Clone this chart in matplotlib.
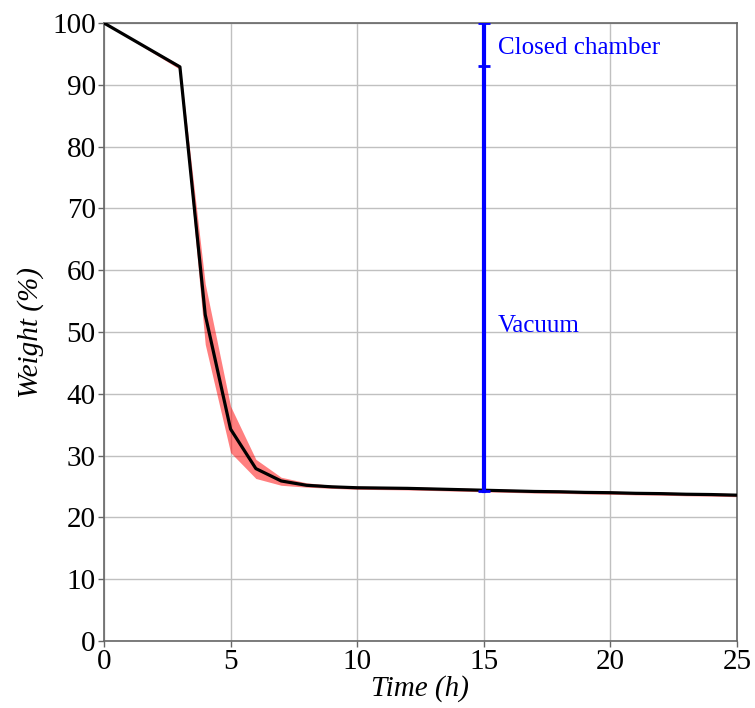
import numpy as np
import matplotlib
matplotlib.use("Agg")
import matplotlib.pyplot as plt

# Weight loss over time (mean with spread band)
time_h = [0, 3, 4, 5, 6, 7, 8, 9, 10, 11, 12, 13, 14, 15, 16, 17, 18, 19, 20, 21, 22, 23, 24, 25]
weight_mean = [100, 92.9, 52.8, 34.3, 27.9, 25.9, 25.2, 24.95, 24.8, 24.75, 24.7, 24.6, 24.5,
               24.4, 24.3, 24.2, 24.15, 24.05, 24.0, 23.9, 23.85, 23.75, 23.7, 23.6]
weight_upper = [100, 93.2, 57.8, 38.0, 29.4, 26.5, 25.6, 25.2, 25.05, 25.0, 24.95, 24.85, 24.75,
                24.65, 24.55, 24.45, 24.4, 24.3, 24.25, 24.15, 24.1, 24.0, 23.95, 23.85]
weight_lower = [100, 92.5, 48.0, 30.5, 26.3, 25.2, 24.9, 24.7, 24.55, 24.5, 24.45, 24.35, 24.25,
                24.15, 24.05, 23.95, 23.9, 23.8, 23.75, 23.65, 23.6, 23.5, 23.45, 23.35]

# Vertical marker for the regime change
marker_x = 15
marker_bottom = 24.2
marker_split = 93.0
marker_top = 100

plt.rcParams['font.family'] = ['Liberation Serif', 'DejaVu Serif']

fig = plt.figure(figsize=(7.55, 7.08), dpi=100)
ax = fig.add_axes([0.1377, 0.0946, 0.976 - 0.1377, 0.9675 - 0.0946])

ax.fill_between(time_h, weight_lower, weight_upper, color='red', alpha=0.5, linewidth=0, zorder=2)
ax.plot(time_h, weight_mean, color='black', lw=2.3, zorder=3)

# blue bar with caps
ax.plot([marker_x, marker_x], [marker_bottom, marker_top], color='blue', lw=3, zorder=4)
ax.plot([marker_x] * 3, [marker_bottom, marker_split, marker_top], ls='none', marker='_',
        markersize=9, markeredgewidth=2, color='blue', zorder=4)

ax.text(15.55, 95.0, 'Closed chamber', color='blue', fontsize=18, va='baseline', ha='left')
ax.text(15.55, 50.0, 'Vacuum', color='blue', fontsize=18, va='baseline', ha='left')

ax.set_xlim(0, 25)
ax.set_ylim(0, 100)
ax.set_xticks(np.arange(0, 26, 5))
ax.set_yticks(np.arange(0, 101, 10))
ax.tick_params(labelsize=21, color='#666666', length=4, width=1, pad=2)
ax.grid(True, color='#c0c0c0', lw=1)
ax.set_axisbelow(True)
for s in ax.spines.values():
    s.set_color('#666666')
    s.set_linewidth(1.2)

ax.set_xlabel('Time (h)', fontsize=21, style='italic', labelpad=0)
ax.set_ylabel('Weight (%)', fontsize=21, style='italic', labelpad=6)

fig.savefig('out.png', dpi=100)
